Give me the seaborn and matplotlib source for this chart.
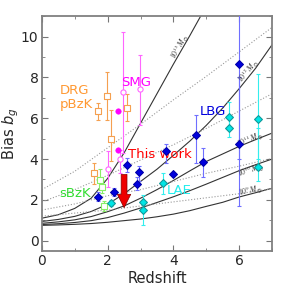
import numpy as np
import pandas as pd
import matplotlib
matplotlib.use("Agg")
import matplotlib.pyplot as plt
import seaborn as sns

# ---- halo bias curves ----
z_halo = [0, 0.5, 1, 1.5, 2, 2.5, 3, 3.5, 4, 4.5, 5, 5.5, 6, 6.5, 7]
b_13 = [1.10, 1.27, 1.58, 2.08, 3.05, 4.30, 5.75, 7.20, 8.65, 10.05, 11.5, np.nan, np.nan, np.nan, np.nan]
b_12 = [0.94, 1.04, 1.19, 1.43, 1.78, 2.30, 2.90, 3.50, 4.18, 4.88, 5.65, 6.50, 7.45, 8.45, 9.60]
b_11 = [0.85, 0.92, 1.02, 1.18, 1.42, 1.70, 2.08, 2.50, 2.95, 3.42, 3.88, 4.25, 4.62, 4.95, 5.27]
b_10 = [0.79, 0.83, 0.89, 0.98, 1.13, 1.35, 1.60, 1.87, 2.15, 2.45, 2.77, 3.10, 3.43, 3.72, 4.00]
b_9 = [0.75, 0.77, 0.80, 0.84, 0.90, 0.98, 1.06, 1.17, 1.30, 1.47, 1.68, 1.88, 2.14, 2.35, 2.57]
halo_curves = {"13": b_13, "12": b_12, "11": b_11, "10": b_10, "9": b_9}

# dotted evolution tracks
z_trk = [0, 1, 2, 3, 4, 5, 6, 7]
trk_1 = [2.50, 3.40, 4.55, 5.70, 6.90, 8.05, 9.25, 10.45]
trk_2 = [1.90, 2.50, 3.20, 3.95, 4.70, 5.50, 6.35, 7.20]
trk_3 = [1.50, 1.80, 2.20, 2.50, 2.90, 3.30, 3.65, 4.03]
trk_4 = [1.20, 1.35, 1.50, 1.70, 1.90, 2.10, 2.30, 2.55]

# ---- observed samples: z, bias, lower, upper ----
drg_z = [1.58, 1.71, 1.99, 2.10, 2.60]
drg_b = [3.33, 6.34, 7.10, 5.00, 6.50]
drg_lo = [2.80, 5.90, 5.90, 3.90, 5.85]
drg_hi = [3.80, 6.75, 8.28, 6.40, 7.20]

sbzk_z = [1.78, 1.83, 1.90]
sbzk_b = [2.98, 2.62, 1.70]
sbzk_lo = [2.55, 2.35, 1.43]
sbzk_hi = [3.50, 2.95, 1.95]

smg_z = [2.01, 2.39, 2.48, 2.99]
smg_b = [3.51, 3.98, 7.28, 7.41]
smg_lo = [2.65, 3.30, 4.30, 5.66]
smg_hi = [4.40, 4.45, 10.21, 9.12]
smg2_z = [2.31, 2.31]
smg2_b = [6.37, 4.45]

lbg_z = [1.71, 2.19, 2.60, 2.90, 2.95, 3.77, 3.98, 4.68, 4.91, 5.98, 5.98]
lbg_b = [2.13, 2.37, 3.71, 2.78, 3.35, 4.38, 3.27, 5.17, 3.84, 8.67, 4.72]
lbg_lo = [1.92, 2.17, 3.38, 2.47, 2.93, 3.80, 3.27, 3.80, 3.13, 4.00, 1.70]
lbg_hi = [2.36, 2.57, 4.03, 3.14, 3.66, 4.75, 3.27, 6.16, 4.53, 12.0, 8.00]

lae_z = [2.10, 3.09, 3.09, 3.68, 5.68, 5.68, 6.56, 6.56]
lae_b = [1.86, 1.89, 1.48, 2.81, 6.07, 5.50, 5.98, 3.60]
lae_lo = [1.70, 1.60, 0.78, 2.30, 5.60, 5.09, 4.00, 2.90]
lae_hi = [2.00, 2.24, 1.75, 3.30, 6.77, 5.95, 8.18, 5.50]

this_z = [2.50]
this_b = [3.38]
this_lim = [1.48]

# ---- plotting ----
sns.set_theme(style="ticks")
plt.rcParams.update({"font.family": ["DejaVu Sans"], "mathtext.fontset": "dejavusans"})

fig = plt.figure(figsize=(2.99, 2.99), dpi=100)
ax = fig.add_axes([0.140, 0.161, 0.770, 0.785])

for key, b in halo_curves.items():
    sns.lineplot(x=z_halo, y=b, ax=ax, color="#333333", lw=0.8)
for trk in [trk_1, trk_2, trk_3, trk_4]:
    sns.lineplot(x=z_trk, y=trk, ax=ax, color="#999999", lw=0.8, linestyle=":")

def sample(z, b, lo, hi, ecol, mcol, face, marker, size):
    z = np.array(z); b = np.array(b)
    yerr = [b - np.array(lo), np.array(hi) - b]
    ax.errorbar(z, b, yerr=yerr, fmt="none", ecolor=ecol, elinewidth=0.8,
                capsize=1.5, capthick=0.8, zorder=3)
    sns.scatterplot(x=z, y=b, ax=ax, marker=marker, s=size, color=face,
                    edgecolor=mcol, linewidth=0.8, zorder=4)

orange = "#f5a050"
sample(drg_z, drg_b, drg_lo, drg_hi, orange, orange, "white", "s", 14)
sample(sbzk_z, sbzk_b, sbzk_lo, sbzk_hi, "#88ee66", "#88ee66", "white", "s", 14)
sample(smg_z, smg_b, smg_lo, smg_hi, "#ff66ff", "#ff66ff", "white", "o", 14)
sns.scatterplot(x=smg2_z, y=smg2_b, ax=ax, marker="o", s=16, color="#ff00ff",
                edgecolor="#ff00ff", zorder=4)
sample(lbg_z, lbg_b, lbg_lo, lbg_hi, "#6f6fff", "#0000aa", "#0000dd", "D", 16)
sample(lae_z, lae_b, lae_lo, lae_hi, "#33eeee", "#119999", "#00e5e5", "D", 16)

for z, b, lim in zip(this_z, this_b, this_lim):
    ax.annotate("", xy=(z, lim), xytext=(z, b),
                arrowprops=dict(arrowstyle="simple,head_width=0.8,head_length=0.8,tail_width=0.35",
                                fc="#ee0000", ec="#880000", lw=0.5), zorder=5)

# halo mass labels
lab_pos = {"13": (4.20, 9.50, 60), "12": (6.30, 8.30, 50), "11": (6.35, 4.95, 22),
           "10": (6.35, 3.45, 18), "9": (6.35, 2.45, 12)}
for key, (x, y, rot) in lab_pos.items():
    ax.text(x, y, r"$10^{%s}\,M_\odot$" % key, fontsize=5.5, rotation=rot,
            color="#333333", ha="center", va="center", family="serif",
            math_fontfamily="stix")

ax.text(0.55, 7.37, "DRG", color="#ff9933", fontsize=9.5, va="center")
ax.text(0.55, 6.68, "pBzK", color="#ff9933", fontsize=9.5, va="center")
ax.text(2.40, 7.77, "SMG", color="#ff00ff", fontsize=9.5, va="center")
ax.text(4.80, 6.34, "LBG", color="#0000dd", fontsize=9.5, va="center")
ax.text(0.52, 2.33, "sBzK", color="#33dd33", fontsize=9.5, va="center")
ax.text(2.62, 4.20, "This work", color="#ff0000", fontsize=9.5, va="center")
ax.text(3.80, 2.45, "LAE", color="#22eeee", fontsize=9.5, va="center")

ax.set_xlim(0, 7)
ax.set_ylim(-0.5, 11)
ax.set_xticks([0, 2, 4, 6])
ax.set_yticks([0, 2, 4, 6, 8, 10])
ax.set_xticks(range(0, 8), minor=True)
ax.set_yticks(range(0, 12), minor=True)
ax.tick_params(which="both", direction="in", top=True, right=True, color="#777777",
               labelsize=10, pad=2.5)
ax.tick_params(which="major", length=4, width=0.8)
ax.tick_params(which="minor", length=2, width=0.6)
for s in ax.spines.values():
    s.set_color("#808080")
    s.set_linewidth(1.3)
ax.set_xlabel("Redshift", fontsize=10.5)
ax.set_ylabel(r"Bias $b_g$", fontsize=10.5)
ax.xaxis.set_label_coords(0.5, -0.085)
ax.yaxis.set_label_coords(-0.09, 0.5)

fig.savefig("out.png", dpi=100)
